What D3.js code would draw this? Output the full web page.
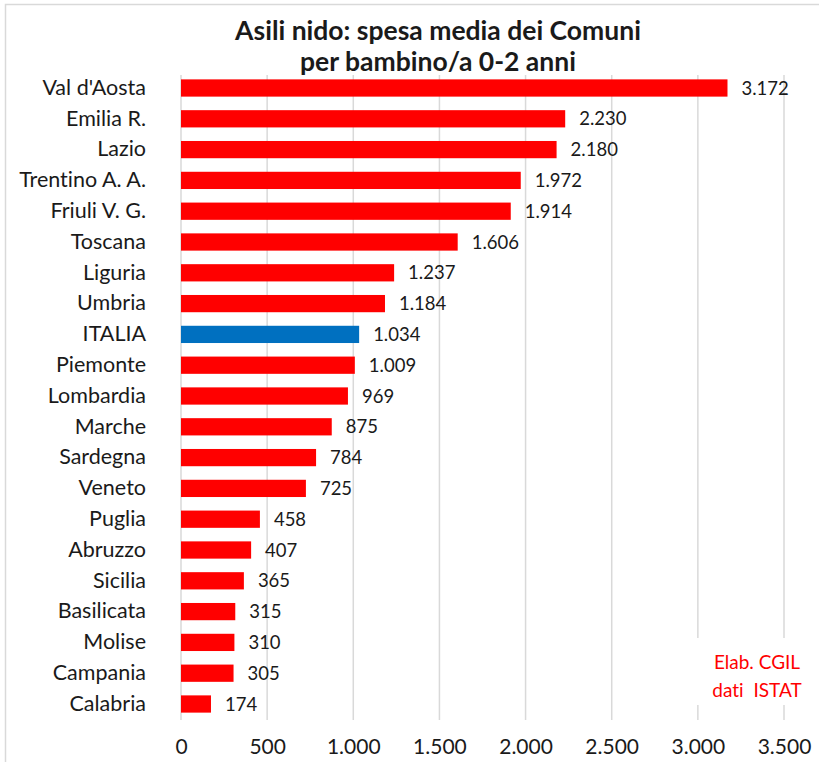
<!DOCTYPE html>
<html><head><meta charset="utf-8">
<script src="https://cdn.jsdelivr.net/npm/d3@7"></script>
<style>body{margin:0;background:#fff}svg{display:block}text{font-variant-ligatures:none;font-feature-settings:"liga" 0}</style>
</head><body>
<script>
const categories = ["Val d'Aosta","Emilia R.","Lazio","Trentino A. A.","Friuli V. G.","Toscana","Liguria","Umbria","ITALIA","Piemonte","Lombardia","Marche","Sardegna","Veneto","Puglia","Abruzzo","Sicilia","Basilicata","Molise","Campania","Calabria"];
const values = [3172,2230,2180,1972,1914,1606,1237,1184,1034,1009,969,875,784,725,458,407,365,315,310,305,174];
const highlight = ["ITALIA"];
const ticks = [0,500,1000,1500,2000,2500,3000,3500];
const titleLines = ["Asili nido: spesa media dei Comuni","per bambino/a 0-2 anni"];
const noteLines = ["Elab. CGIL","dati  ISTAT"];

const W=819,H=762;
const svg=d3.select("body").append("svg").attr("width",W).attr("height",H);
const font="Lato, 'Open Sans', sans-serif";
svg.append("rect").attr("x",5.5).attr("y",4.5).attr("width",W).attr("height",H).attr("fill","#fff").attr("stroke","#d9d9d9").attr("stroke-width",1.5);

const fmt=v=>d3.format(",")(v).replace(/,/g,".");
const x=d3.scaleLinear().domain([0,3500]).range([181,784]);
const y=d3.scaleBand().domain(categories).range([72.6,719.4]).paddingInner(0.44).paddingOuter(0.22);

const g=svg.append("g");
g.selectAll("line.grid").data(ticks).join("line").attr("class","grid")
 .attr("x1",d=>x(d)).attr("x2",d=>x(d)).attr("y1",75).attr("y2",720)
 .attr("stroke","#d9d9d9").attr("stroke-width",1.5);

g.selectAll("rect.bar").data(categories).join("rect").attr("class","bar")
 .attr("x",x(0)).attr("y",d=>y(d)).attr("height",y.bandwidth())
 .attr("width",(d,i)=>x(values[i])-x(0))
 .attr("fill",d=>highlight.includes(d)?"#0070c0":"#ff0000");

g.selectAll("text.val").data(categories).join("text").attr("class","val")
 .attr("x",(d,i)=>x(values[i])+14).attr("y",d=>y(d)+y.bandwidth()/2)
 .attr("dy","0.36em").attr("font-family",font).attr("font-size",18.5).attr("fill","#1a1a1a")
 .text((d,i)=>fmt(values[i]));

const yAxis=d3.axisLeft(y).tickSize(0).tickPadding(0);
const ya=svg.append("g").attr("transform","translate(146,0)").call(yAxis);
ya.select(".domain").remove();
ya.selectAll("text").attr("font-family",font).attr("font-size",21.5).attr("fill","#1a1a1a");

const xAxis=d3.axisBottom(x).tickValues(ticks).tickSize(0).tickPadding(0).tickFormat(fmt);
const xa=svg.append("g").attr("transform","translate(0,739)").call(xAxis);
xa.select(".domain").remove();
xa.selectAll("text").attr("font-family",font).attr("font-size",21).attr("fill","#1a1a1a");

// note box
svg.append("rect").attr("x",690).attr("y",638).attr("width",120).attr("height",67).attr("fill","#fff");
svg.selectAll("text.note").data(noteLines).join("text").attr("class","note")
 .attr("x",757).attr("y",(d,i)=>669+i*28).attr("text-anchor","middle")
 .attr("font-family",font).attr("font-size",19).attr("fill","#ff0000").attr("xml:space","preserve")
 .style("white-space","pre").text(d=>d);

svg.selectAll("text.title").data(titleLines).join("text").attr("class","title")
 .attr("x",438).attr("y",(d,i)=>40+i*31).attr("text-anchor","middle")
 .attr("font-family",font).attr("font-weight","bold").attr("font-size",26.5).attr("fill","#1a1a1a")
 .text(d=>d);
</script>
</body></html>
